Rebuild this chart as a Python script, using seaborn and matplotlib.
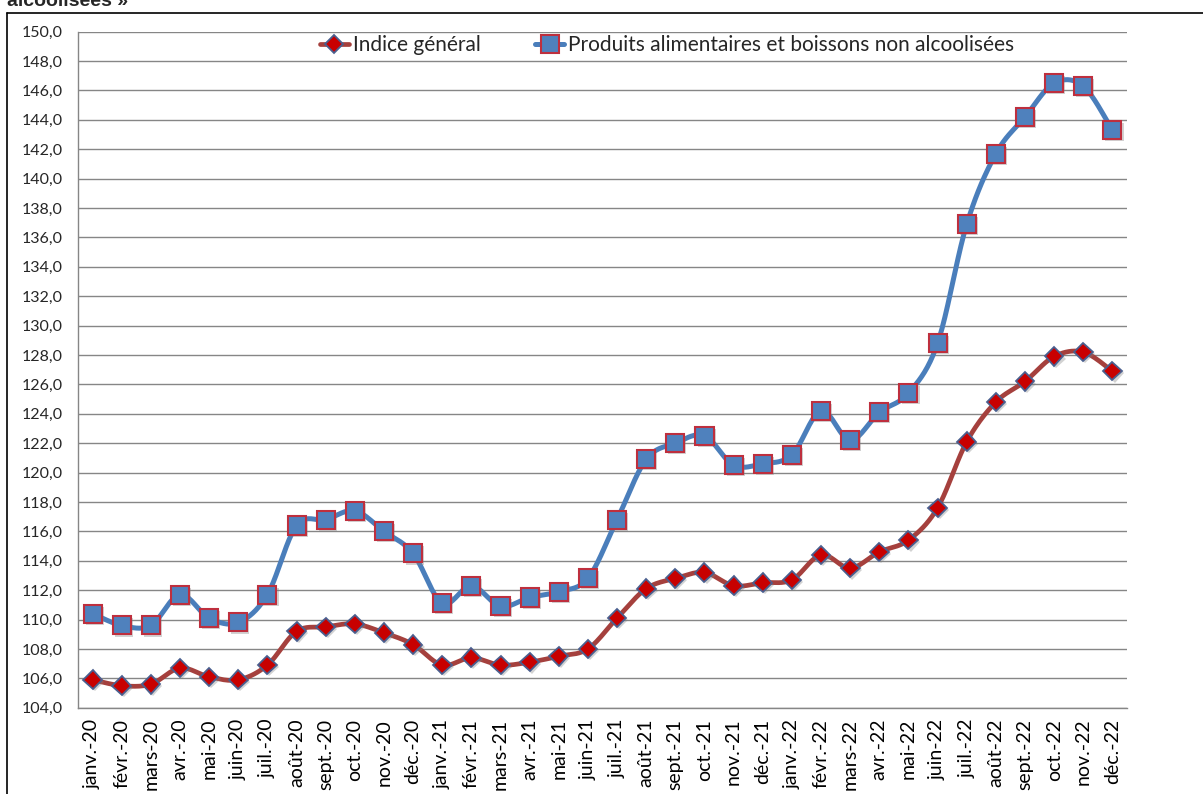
import numpy as np
import pandas as pd
import seaborn as sns
import matplotlib
matplotlib.use('Agg')
import matplotlib.pyplot as plt
import matplotlib.patheffects as pe
from matplotlib.lines import Line2D
from matplotlib.ticker import FuncFormatter, FixedLocator

months = ['janv.', 'févr.', 'mars', 'avr.', 'mai', 'juin',
          'juil.', 'août', 'sept.', 'oct.', 'nov.', 'déc.']
years = ['20', '21', '22']
labels = [m + '-' + y for y in years for m in months]

indice_general = [105.9, 105.5, 105.6, 106.7, 106.1, 105.9, 106.9, 109.2, 109.5, 109.7, 109.1, 108.3,
                  106.9, 107.4, 106.9, 107.1, 107.5, 108.0, 110.1, 112.1, 112.8, 113.2, 112.3, 112.5,
                  112.7, 114.4, 113.5, 114.6, 115.4, 117.6, 122.1, 124.8, 126.2, 127.9, 128.2, 126.9]
alimentaires = [110.4, 109.6, 109.6, 111.7, 110.1, 109.8, 111.7, 116.4, 116.8, 117.4, 116.0, 114.5,
                111.1, 112.3, 110.9, 111.5, 111.9, 112.8, 116.8, 120.9, 122.0, 122.5, 120.5, 120.6,
                121.2, 124.2, 122.2, 124.1, 125.4, 128.8, 136.9, 141.7, 144.2, 146.5, 146.3, 143.3]

name_gen = 'Indice général'
name_ali = 'Produits alimentaires et boissons non alcoolisées'


def smooth(y, steps=20):
    # courbe lissée façon Excel (bezier / catmull-rom)
    y = np.asarray(y, dtype=float)
    x = np.arange(len(y), dtype=float)
    px = np.concatenate([[x[0]], x, [x[-1]]])
    py = np.concatenate([[y[0]], y, [y[-1]]])
    xs, ys = [], []
    t = np.linspace(0, 1, steps, endpoint=False)
    for i in range(len(y) - 1):
        p0 = np.array([px[i + 1], py[i + 1]])
        p3 = np.array([px[i + 2], py[i + 2]])
        c1 = p0 + (p3 - np.array([px[i], py[i]])) / 6
        c2 = p3 - (np.array([px[i + 3], py[i + 3]]) - p0) / 6
        b = ((1 - t) ** 3)[:, None] * p0 + (3 * (1 - t) ** 2 * t)[:, None] * c1 \
            + (3 * (1 - t) * t ** 2)[:, None] * c2 + (t ** 3)[:, None] * p3
        xs.extend(b[:, 0])
        ys.extend(b[:, 1])
    xs.append(x[-1])
    ys.append(y[-1])
    return np.array(xs), np.array(ys)


sns.set_style('white')
plt.rcParams['font.family'] = ['Lato', 'DejaVu Sans']

fig = plt.figure(figsize=(12.03, 7.94), dpi=100)
ax = fig.add_axes([78 / 1203, 1 - 707.7 / 794, (1127 - 78) / 1203, (707.7 - 31.7) / 794])

blue = '#4A7EBB'
red_line = '#A5403D'
shadow = [pe.SimplePatchShadow(offset=(1.5, -1.5), shadow_rgbFace='gray', alpha=0.35), pe.Normal()]

sx, sy = smooth(alimentaires)
df_ali = pd.DataFrame({'x': sx, 'y': sy})
sns.lineplot(data=df_ali, x='x', y='y', ax=ax, color=blue, lw=3.6, sort=False, estimator=None, zorder=3)
sx, sy = smooth(indice_general)
df_gen = pd.DataFrame({'x': sx, 'y': sy})
sns.lineplot(data=df_gen, x='x', y='y', ax=ax, color=red_line, lw=3.4, sort=False, estimator=None, zorder=3)

xi = np.arange(len(labels))
ax.plot(xi, alimentaires, ls='none', marker='s', ms=13, mfc='#4F81BD', mec='#BE2F3E', mew=1.5,
        zorder=4, path_effects=shadow)
ax.plot(xi, indice_general, ls='none', marker='D', ms=9.5, mfc='#C80000', mec='#4A5F8F', mew=1.3,
        zorder=4, path_effects=shadow)

ax.set_xlim(-0.5, len(labels) - 0.5)
ax.set_ylim(104, 150)
ax.set_yticks(np.arange(104, 151, 2))
ax.yaxis.set_major_formatter(FuncFormatter(lambda v, p: f'{v:.1f}'.replace('.', ',')))
ax.set_xticks(xi)
ax.set_xticklabels(labels, rotation=90)
ax.xaxis.set_minor_locator(FixedLocator(np.arange(-0.5, len(labels), 1)))
ax.tick_params(axis='x', which='major', length=0, pad=8, labelsize=14, colors='black')
ax.tick_params(axis='x', which='minor', length=6, color='#868686', width=1)
ax.tick_params(axis='y', which='major', length=5, color='#868686', width=1, labelsize=11.5, pad=6)
ax.set_xlabel('')
ax.set_ylabel('')

ax.grid(axis='y', color='#868686', lw=1.0)
ax.set_axisbelow(True)
for s in ['top', 'right']:
    ax.spines[s].set_visible(False)
for s in ['left', 'bottom']:
    ax.spines[s].set_color('#868686')
    ax.spines[s].set_linewidth(1.0)

handles = [
    Line2D([], [], color=red_line, lw=3.4, marker='D', ms=9.5, mfc='#C80000', mec='#4A5F8F', mew=1.3),
    Line2D([], [], color=blue, lw=3.6, marker='s', ms=13, mfc='#4F81BD', mec='#BE2F3E', mew=1.5),
]
fig.legend(handles, [name_gen, name_ali], loc='center', bbox_to_anchor=(667 / 1203, 1 - 45 / 794),
           ncol=2, frameon=False, fontsize=15, handlelength=1.4, handletextpad=0.2, columnspacing=2.6)

# cadre du graphique
fig.add_artist(Line2D([7 / 1203, 1], [1 - 13 / 794, 1 - 13 / 794], color='black', lw=1.2))
fig.add_artist(Line2D([7 / 1203, 7 / 1203], [0, 1 - 13 / 794], color='black', lw=1.2))

fig.text(7 / 1203, 1 - 6 / 794, 'alcoolisées »', fontsize=14, fontweight='bold',
         family=['Liberation Sans', 'DejaVu Sans'], va='baseline', ha='left')

fig.savefig('out.png', dpi=100, facecolor='white')
